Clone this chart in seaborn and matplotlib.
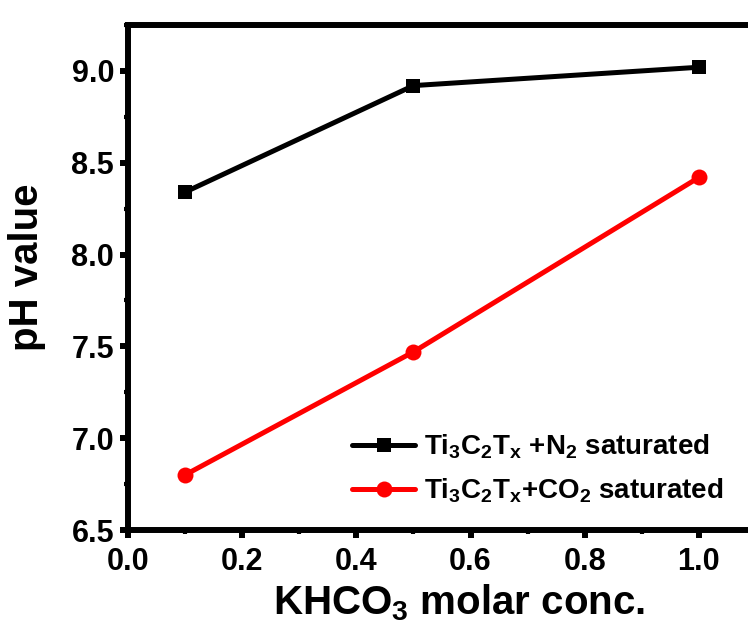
import matplotlib
matplotlib.use("Agg")
import matplotlib.pyplot as plt
import seaborn as sns
import pandas as pd
from matplotlib.ticker import MultipleLocator

conc = [0.1, 0.5, 1.0]
ph_n2 = [8.34, 8.92, 9.02]
ph_co2 = [6.80, 7.47, 8.42]
label_n2 = r'Ti$_3$C$_2$T$_x$ +N$_2$ saturated'
label_co2 = r'Ti$_3$C$_2$T$_x$+CO$_2$ saturated'

sns.set_theme(style="ticks")
plt.rcParams['font.family'] = ['Liberation Sans', 'DejaVu Sans']
plt.rcParams['font.weight'] = 'bold'
plt.rcParams['mathtext.fontset'] = 'custom'
plt.rcParams['mathtext.rm'] = 'Liberation Sans:bold'
plt.rcParams['mathtext.it'] = 'Liberation Sans:bold'
plt.rcParams['mathtext.bf'] = 'Liberation Sans:bold'
plt.rcParams['mathtext.default'] = 'rm'

df_n2 = pd.DataFrame({'conc': conc, 'ph': ph_n2})
df_co2 = pd.DataFrame({'conc': conc, 'ph': ph_co2})

fig = plt.figure(figsize=(7.48, 6.23), dpi=100)
ax = fig.add_axes([128/748, (623-530)/623, 628/748, (530-25)/623])

sns.lineplot(data=df_n2, x='conc', y='ph', ax=ax, color='black', marker='s',
             markersize=10.5, linewidth=3.6, markeredgewidth=0, label=label_n2)
sns.lineplot(data=df_co2, x='conc', y='ph', ax=ax, color='#ff0000', marker='o',
             markersize=11.5, linewidth=3.6, markeredgewidth=0, label=label_co2)

ax.set_xlim(0, 1.1)
ax.set_ylim(6.5, 9.25)
ax.xaxis.set_minor_locator(MultipleLocator(0.1))
ax.yaxis.set_minor_locator(MultipleLocator(0.25))
ax.set_xticks([0.0, 0.2, 0.4, 0.6, 0.8, 1.0])
ax.set_xticklabels(['0.0', '0.2', '0.4', '0.6', '0.8', '1.0'])
ax.set_yticks([6.5, 7.0, 7.5, 8.0, 8.5, 9.0])
ax.set_yticklabels(['6.5', '7.0', '7.5', '8.0', '8.5', '9.0'])

for s in ax.spines.values():
    s.set_linewidth(4.3)
    s.set_color('black')
    s.set_visible(True)

ax.tick_params(axis='both', which='major', direction='out', length=6, width=4.3,
               labelsize=22, color='black', labelcolor='black')
ax.tick_params(axis='x', which='major', pad=6)
ax.tick_params(axis='y', which='major', pad=4)
ax.tick_params(axis='both', which='minor', direction='out', length=3, width=3, color='black')
for lab in ax.get_xticklabels() + ax.get_yticklabels():
    lab.set_fontweight('bold')

ax.set_xlabel(r'KHCO$_3$ molar conc.', fontsize=29, fontweight='bold', color='black')
ax.set_ylabel('pH value', fontsize=29, fontweight='bold', color='black')
ax.xaxis.set_label_coords(0.527, -0.104)
ax.yaxis.set_label_coords(-0.13, 0.52)

leg = ax.legend(loc='lower right', bbox_to_anchor=(0.948, 0.05), frameon=False,
                fontsize=20, handlelength=2.3, handletextpad=0.3, labelspacing=0.55,
                borderaxespad=0, borderpad=0)
for t in leg.get_texts():
    t.set_fontweight('bold')
    t.set_color('black')

ax.set_facecolor('white')
fig.patch.set_facecolor('white')
fig.savefig('out.png', dpi=100, facecolor='white')
